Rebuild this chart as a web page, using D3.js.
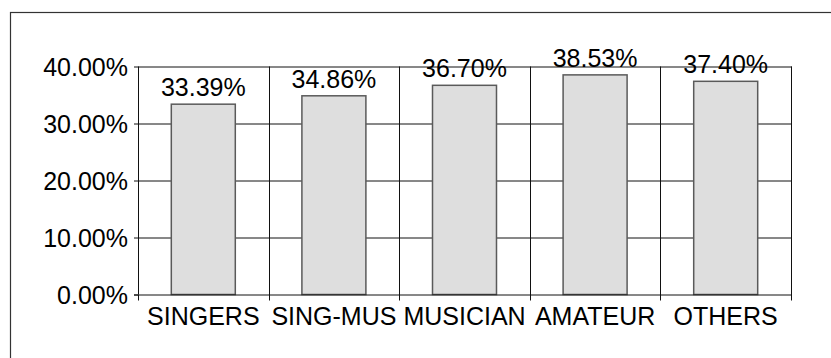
<!DOCTYPE html>
<html>
<head>
<meta charset="utf-8">
<script src="https://cdn.jsdelivr.net/npm/d3@7"></script>
<style>
  html, body { margin: 0; padding: 0; background: #fff; }
  svg { display: block; }
  text { font-family: "Liberation Sans", Arial, sans-serif; fill: #000; }
</style>
</head>
<body>
<svg id="chart" width="831" height="358"></svg>
<script>
// Share of respondents by group
const categories = ["SINGERS", "SING-MUS", "MUSICIAN", "AMATEUR", "OTHERS"];
const values = [33.39, 34.86, 36.70, 38.53, 37.40];
const yTicks = [0, 10, 20, 30, 40];

const W = 831, H = 358;
const margin = { left: 138, right: 40, top: 66.5, bottom: 63.5 };
const innerW = W - margin.left - margin.right;
const innerH = H - margin.top - margin.bottom;
const fontSize = 25;

const svg = d3.select("#chart");

// outer chart frame (extends beyond the window on right and bottom)
svg.append("rect")
  .attr("x", 10.5).attr("y", 12.5)
  .attr("width", W + 20).attr("height", H + 20)
  .attr("fill", "none").attr("stroke", "#333").attr("stroke-width", 1.2);

const g = svg.append("g").attr("transform", `translate(${margin.left},${margin.top})`);

const x = d3.scaleBand().domain(categories).range([0, innerW]).paddingInner(0).paddingOuter(0);
const y = d3.scaleLinear().domain([0, 40]).range([innerH, 0]);
const fmt = v => v.toFixed(2) + "%";

// horizontal gridlines
g.append("g").selectAll("line").data(yTicks.filter(t => t > 0)).join("line")
  .attr("x1", 0).attr("x2", innerW + 1)
  .attr("y1", d => Math.round(y(d)) + 0.5).attr("y2", d => Math.round(y(d)) + 0.5)
  .attr("stroke", "#111").attr("stroke-width", 1);

// vertical category separators, extending below the baseline as tick marks
const bounds = categories.map(c => x(c)).concat([innerW]).slice(1);
g.append("g").selectAll("line").data(bounds).join("line")
  .attr("x1", d => Math.round(d) + 0.5).attr("x2", d => Math.round(d) + 0.5)
  .attr("y1", y(40)).attr("y2", innerH + 6)
  .attr("stroke", "#111").attr("stroke-width", 1);

// bars
const barW = x.bandwidth() * 0.49;
g.append("g").selectAll("rect").data(values).join("rect")
  .attr("x", (d, i) => x(categories[i]) + (x.bandwidth() - barW) / 2)
  .attr("y", d => y(d))
  .attr("width", barW)
  .attr("height", d => innerH - y(d))
  .attr("fill", "#dedede")
  .attr("stroke", "#5a5a5a").attr("stroke-width", 1.5);

// value labels
g.append("g").selectAll("text").data(values).join("text")
  .attr("x", (d, i) => x(categories[i]) + x.bandwidth() / 2)
  .attr("y", d => y(d) - 8)
  .attr("text-anchor", "middle")
  .style("font-size", fontSize + "px")
  .text(d => fmt(d));

// y axis
const yAxis = g.append("g")
  .call(d3.axisLeft(y).tickValues(yTicks).tickSize(4).tickPadding(6).tickFormat(d => fmt(d)));
yAxis.select(".domain").attr("stroke", "#111").attr("d", `M0.5,${innerH}V${y(40)}`);
yAxis.selectAll(".tick line").attr("stroke", "#111");
yAxis.selectAll("text")
  .style("font-size", fontSize + "px")
  .attr("dy", "0.36em")
  .attr("font-family", null);

// x axis baseline
g.append("line")
  .attr("x1", -4).attr("x2", innerW + 1)
  .attr("y1", innerH + 0.5).attr("y2", innerH + 0.5)
  .attr("stroke", "#111");
g.append("line")
  .attr("x1", 0.5).attr("x2", 0.5)
  .attr("y1", innerH).attr("y2", innerH + 6)
  .attr("stroke", "#111");

// category labels
g.append("g").selectAll("text").data(categories).join("text")
  .attr("x", d => x(d) + x.bandwidth() / 2)
  .attr("y", innerH + 30)
  .attr("text-anchor", "middle")
  .style("font-size", fontSize + "px")
  .text(d => d);
</script>
</body>
</html>
